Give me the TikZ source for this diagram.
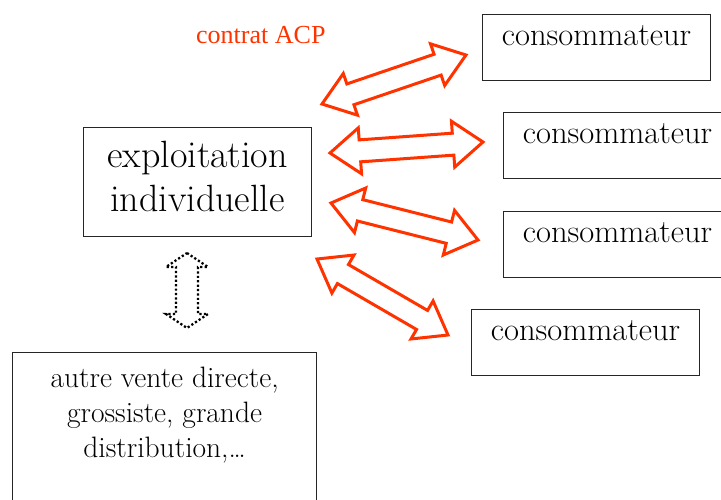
\documentclass[tikz,border=0pt]{standalone}
\usepackage{fontspec}
\newfontfamily\timesfont{Liberation Serif}
\usetikzlibrary{calc}
\definecolor{acpred}{RGB}{255,51,0}
\newcommand\dblarrow[6]{%
  \draw[#1] (#2)
    -- ($(#2)!#4!(#3)!#5!90:(#3)$) -- ($(#2)!#4!(#3)!#6!90:(#3)$)
    -- ($(#3)!#4!(#2)!#6!-90:(#2)$) -- ($(#3)!#4!(#2)!#5!-90:(#2)$)
    -- (#3)
    -- ($(#3)!#4!(#2)!#5!90:(#2)$) -- ($(#3)!#4!(#2)!#6!90:(#2)$)
    -- ($(#2)!#4!(#3)!#6!-90:(#3)$) -- ($(#2)!#4!(#3)!#5!-90:(#3)$)
    -- cycle;}
\tikzset{
  box/.style={draw=black!85, line width=1.2pt, inner sep=0pt, anchor=north west},
  consobox/.style={box, minimum width=228pt, minimum height=66pt,
    font=\fontsize{32.5}{36}\selectfont, text height=22pt, text depth=26pt},
  redarrow/.style={draw=acpred, line width=3pt, fill=white, line join=miter},
  dotarrow/.style={draw=black, line width=2.3pt, dash pattern=on 2.2pt off 2.2pt}
}
\begin{document}
\begin{tikzpicture}[x=1pt,y=-1pt]
\useasboundingbox (0,0) rectangle (721,499);
\clip (0,0) rectangle (721,499);
% nodes
\node[box, minimum width=228pt, minimum height=109pt, align=center,
  font=\fontsize{38}{44}\selectfont, text height=72pt, text depth=13pt]
  (expl) at (83,127) {exploitation\\individuelle};
\node[box, minimum width=304pt, minimum height=170pt, align=center,
  font=\fontsize{29.5}{35}\selectfont, text height=100pt, text depth=60pt]
  (autre) at (12,352) {autre vente directe,\\grossiste, grande\\distribution,\dots};
\node[consobox] (c1) at (482,14) {consommateur};
\node[consobox] (c2) at (503,112) {consommateur};
\node[consobox] (c3) at (503,211) {consommateur};
\node[consobox] (c4) at (471,309) {consommateur};
\node[anchor=base west, inner sep=0pt, text=acpred,
  font=\timesfont\fontsize{26}{30}\selectfont] (acp) at (196,43) {contrat ACP};
% arrow end points
\coordinate (a1e) at (322,104); \coordinate (a1c) at (466,55);
\coordinate (a2e) at (330,153); \coordinate (a2c) at (483,142);
\coordinate (a3e) at (331,203); \coordinate (a3c) at (478,240);
\coordinate (a4e) at (317,259); \coordinate (a4c) at (448,335);
\coordinate (dte) at (187,253); \coordinate (dta) at (187,328);
% arrows
\dblarrow{redarrow}{a1e}{a1c}{30pt}{22pt}{11pt}
\dblarrow{redarrow}{a2e}{a2c}{30pt}{23pt}{11pt}
\dblarrow{redarrow}{a3e}{a3c}{30pt}{23pt}{11pt}
\dblarrow{redarrow}{a4e}{a4c}{30pt}{22pt}{11pt}
\dblarrow{dotarrow}{dte}{dta}{14pt}{21pt}{11pt}
\end{tikzpicture}
\end{document}
